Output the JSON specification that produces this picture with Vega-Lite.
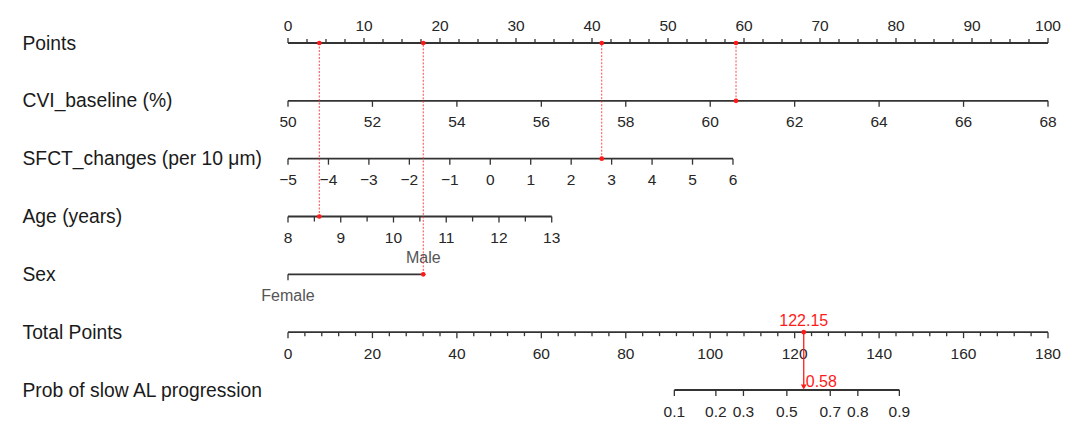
{
  "$schema": "https://vega.github.io/schema/vega-lite/v6.json",
  "width": 760,
  "height": 347,
  "autosize": "none",
  "padding": {"left": 288, "right": 32, "top": 43, "bottom": 36},
  "background": "white",
  "config": {
    "view": {"stroke": null},
    "font": "Liberation Sans",
    "axisY": {
      "domain": false, "ticks": false, "tickSize": 0, "grid": false, "title": null,
      "labelAlign": "left", "labelPadding": 266, "labelFontSize": 19.3,
      "labelColor": "#1a1a1a", "labelLimit": 400, "labelFont": "Liberation Sans"
    }
  },
  "datasets": {
    "top": [
      {"row": "Points", "pos": 0, "label": "0"}, {"row": "Points", "pos": 2.5, "label": ""}, {"row": "Points", "pos": 5, "label": ""}, {"row": "Points", "pos": 7.5, "label": ""},
      {"row": "Points", "pos": 10, "label": "10"}, {"row": "Points", "pos": 12.5, "label": ""}, {"row": "Points", "pos": 15, "label": ""}, {"row": "Points", "pos": 17.5, "label": ""},
      {"row": "Points", "pos": 20, "label": "20"}, {"row": "Points", "pos": 22.5, "label": ""}, {"row": "Points", "pos": 25, "label": ""}, {"row": "Points", "pos": 27.5, "label": ""},
      {"row": "Points", "pos": 30, "label": "30"}, {"row": "Points", "pos": 32.5, "label": ""}, {"row": "Points", "pos": 35, "label": ""}, {"row": "Points", "pos": 37.5, "label": ""},
      {"row": "Points", "pos": 40, "label": "40"}, {"row": "Points", "pos": 42.5, "label": ""}, {"row": "Points", "pos": 45, "label": ""}, {"row": "Points", "pos": 47.5, "label": ""},
      {"row": "Points", "pos": 50, "label": "50"}, {"row": "Points", "pos": 52.5, "label": ""}, {"row": "Points", "pos": 55, "label": ""}, {"row": "Points", "pos": 57.5, "label": ""},
      {"row": "Points", "pos": 60, "label": "60"}, {"row": "Points", "pos": 62.5, "label": ""}, {"row": "Points", "pos": 65, "label": ""}, {"row": "Points", "pos": 67.5, "label": ""},
      {"row": "Points", "pos": 70, "label": "70"}, {"row": "Points", "pos": 72.5, "label": ""}, {"row": "Points", "pos": 75, "label": ""}, {"row": "Points", "pos": 77.5, "label": ""},
      {"row": "Points", "pos": 80, "label": "80"}, {"row": "Points", "pos": 82.5, "label": ""}, {"row": "Points", "pos": 85, "label": ""}, {"row": "Points", "pos": 87.5, "label": ""},
      {"row": "Points", "pos": 90, "label": "90"}, {"row": "Points", "pos": 92.5, "label": ""}, {"row": "Points", "pos": 95, "label": ""}, {"row": "Points", "pos": 97.5, "label": ""},
      {"row": "Points", "pos": 100, "label": "100"},
      {"row": "CVI_baseline (%)", "pos": 0, "label": "50"}, {"row": "CVI_baseline (%)", "pos": 11.111, "label": "52"},
      {"row": "CVI_baseline (%)", "pos": 22.222, "label": "54"}, {"row": "CVI_baseline (%)", "pos": 33.333, "label": "56"},
      {"row": "CVI_baseline (%)", "pos": 44.444, "label": "58"}, {"row": "CVI_baseline (%)", "pos": 55.556, "label": "60"},
      {"row": "CVI_baseline (%)", "pos": 66.667, "label": "62"}, {"row": "CVI_baseline (%)", "pos": 77.778, "label": "64"},
      {"row": "CVI_baseline (%)", "pos": 88.889, "label": "66"}, {"row": "CVI_baseline (%)", "pos": 100, "label": "68"},
      {"row": "SFCT_changes (per 10 μm)", "pos": 0, "label": "−5"}, {"row": "SFCT_changes (per 10 μm)", "pos": 5.323, "label": "−4"},
      {"row": "SFCT_changes (per 10 μm)", "pos": 10.645, "label": "−3"}, {"row": "SFCT_changes (per 10 μm)", "pos": 15.968, "label": "−2"},
      {"row": "SFCT_changes (per 10 μm)", "pos": 21.291, "label": "−1"}, {"row": "SFCT_changes (per 10 μm)", "pos": 26.614, "label": "0"},
      {"row": "SFCT_changes (per 10 μm)", "pos": 31.936, "label": "1"}, {"row": "SFCT_changes (per 10 μm)", "pos": 37.259, "label": "2"},
      {"row": "SFCT_changes (per 10 μm)", "pos": 42.582, "label": "3"}, {"row": "SFCT_changes (per 10 μm)", "pos": 47.905, "label": "4"},
      {"row": "SFCT_changes (per 10 μm)", "pos": 53.227, "label": "5"}, {"row": "SFCT_changes (per 10 μm)", "pos": 58.55, "label": "6"},
      {"row": "Age (years)", "pos": 0, "label": "8"}, {"row": "Age (years)", "pos": 3.47, "label": ""},
      {"row": "Age (years)", "pos": 6.94, "label": "9"}, {"row": "Age (years)", "pos": 10.41, "label": ""},
      {"row": "Age (years)", "pos": 13.88, "label": "10"}, {"row": "Age (years)", "pos": 17.35, "label": ""},
      {"row": "Age (years)", "pos": 20.82, "label": "11"}, {"row": "Age (years)", "pos": 24.29, "label": ""},
      {"row": "Age (years)", "pos": 27.76, "label": "12"}, {"row": "Age (years)", "pos": 31.23, "label": ""},
      {"row": "Age (years)", "pos": 34.7, "label": "13"},
      {"row": "Sex", "pos": 0, "label": "Female"}, {"row": "Sex", "pos": 17.8, "label": "Male"}
    ],
    "bottom": [
      {"row": "Total Points", "pos": 0, "label": "0"}, {"row": "Total Points", "pos": 4, "label": ""}, {"row": "Total Points", "pos": 8, "label": ""}, {"row": "Total Points", "pos": 12, "label": ""}, {"row": "Total Points", "pos": 16, "label": ""},
      {"row": "Total Points", "pos": 20, "label": "20"}, {"row": "Total Points", "pos": 24, "label": ""}, {"row": "Total Points", "pos": 28, "label": ""}, {"row": "Total Points", "pos": 32, "label": ""}, {"row": "Total Points", "pos": 36, "label": ""},
      {"row": "Total Points", "pos": 40, "label": "40"}, {"row": "Total Points", "pos": 44, "label": ""}, {"row": "Total Points", "pos": 48, "label": ""}, {"row": "Total Points", "pos": 52, "label": ""}, {"row": "Total Points", "pos": 56, "label": ""},
      {"row": "Total Points", "pos": 60, "label": "60"}, {"row": "Total Points", "pos": 64, "label": ""}, {"row": "Total Points", "pos": 68, "label": ""}, {"row": "Total Points", "pos": 72, "label": ""}, {"row": "Total Points", "pos": 76, "label": ""},
      {"row": "Total Points", "pos": 80, "label": "80"}, {"row": "Total Points", "pos": 84, "label": ""}, {"row": "Total Points", "pos": 88, "label": ""}, {"row": "Total Points", "pos": 92, "label": ""}, {"row": "Total Points", "pos": 96, "label": ""},
      {"row": "Total Points", "pos": 100, "label": "100"}, {"row": "Total Points", "pos": 104, "label": ""}, {"row": "Total Points", "pos": 108, "label": ""}, {"row": "Total Points", "pos": 112, "label": ""}, {"row": "Total Points", "pos": 116, "label": ""},
      {"row": "Total Points", "pos": 120, "label": "120"}, {"row": "Total Points", "pos": 124, "label": ""}, {"row": "Total Points", "pos": 128, "label": ""}, {"row": "Total Points", "pos": 132, "label": ""}, {"row": "Total Points", "pos": 136, "label": ""},
      {"row": "Total Points", "pos": 140, "label": "140"}, {"row": "Total Points", "pos": 144, "label": ""}, {"row": "Total Points", "pos": 148, "label": ""}, {"row": "Total Points", "pos": 152, "label": ""}, {"row": "Total Points", "pos": 156, "label": ""},
      {"row": "Total Points", "pos": 160, "label": "160"}, {"row": "Total Points", "pos": 164, "label": ""}, {"row": "Total Points", "pos": 168, "label": ""}, {"row": "Total Points", "pos": 172, "label": ""}, {"row": "Total Points", "pos": 176, "label": ""},
      {"row": "Total Points", "pos": 180, "label": "180"},
      {"row": "Prob of slow AL progression", "pos": 91.5, "label": "0.1"},
      {"row": "Prob of slow AL progression", "pos": 101.34, "label": "0.2"},
      {"row": "Prob of slow AL progression", "pos": 107.87, "label": "0.3"},
      {"row": "Prob of slow AL progression", "pos": 118.15, "label": "0.5"},
      {"row": "Prob of slow AL progression", "pos": 128.43, "label": "0.7"},
      {"row": "Prob of slow AL progression", "pos": 134.96, "label": "0.8"},
      {"row": "Prob of slow AL progression", "pos": 144.8, "label": "0.9"}
    ],
    "picks": [
      {"row": "CVI_baseline (%)", "pos": 58.95},
      {"row": "SFCT_changes (per 10 μm)", "pos": 41.28},
      {"row": "Age (years)", "pos": 4.12},
      {"row": "Sex", "pos": 17.8}
    ],
    "result": [
      {"row": "Total Points", "pos": 122.15, "prob": "0.58"}
    ]
  },
  "encoding": {
    "y": {
      "field": "row", "type": "nominal",
      "scale": {"type": "point", "padding": 0, "domain": ["Points", "CVI_baseline (%)", "SFCT_changes (per 10 μm)", "Age (years)", "Sex", "Total Points", "Prob of slow AL progression"]}
    }
  },
  "layer": [
    {
      "data": {"name": "top"},
      "encoding": {"x": {"field": "pos", "type": "quantitative", "scale": {"domain": [0, 100], "nice": false, "zero": false}, "axis": null}},
      "layer": [
        {
          "transform": [{"aggregate": [{"op": "min", "field": "pos", "as": "pos"}, {"op": "max", "field": "pos", "as": "pos2"}], "groupby": ["row"]}],
          "mark": {"type": "rule", "color": "#333333", "strokeWidth": 1.8},
          "encoding": {"x2": {"field": "pos2"}}
        },
        {
          "transform": [{"filter": "datum.row != 'Points' && datum.label != '' && datum.label != 'Male'"}],
          "mark": {"type": "rule", "color": "#333333", "strokeWidth": 1.3, "y2Offset": 6},
          "encoding": {"y2": {"field": "row"}}
        },
        {
          "transform": [{"filter": "datum.row != 'Points' && datum.label == ''"}],
          "mark": {"type": "rule", "color": "#333333", "strokeWidth": 1.3, "y2Offset": 5},
          "encoding": {"y2": {"field": "row"}}
        },
        {
          "transform": [{"filter": "datum.row == 'Points' && datum.label != ''"}],
          "mark": {"type": "rule", "color": "#333333", "strokeWidth": 1.3, "y2Offset": -5},
          "encoding": {"y2": {"field": "row"}}
        },
        {
          "transform": [{"filter": "datum.row == 'Points' && datum.label == ''"}],
          "mark": {"type": "rule", "color": "#333333", "strokeWidth": 1.3, "y2Offset": -4},
          "encoding": {"y2": {"field": "row"}}
        },
        {
          "transform": [{"filter": "datum.row != 'Points' && datum.row != 'Sex' && datum.label != ''"}],
          "mark": {"type": "text", "fontSize": 15.5, "color": "#262626", "baseline": "middle", "dy": 21},
          "encoding": {"text": {"field": "label"}}
        },
        {
          "transform": [{"filter": "datum.row == 'Points' && datum.label != ''"}],
          "mark": {"type": "text", "fontSize": 15.5, "color": "#262626", "baseline": "middle", "dy": -17.5},
          "encoding": {"text": {"field": "label"}}
        },
        {
          "transform": [{"filter": "datum.label == 'Male'"}],
          "mark": {"type": "text", "fontSize": 16, "color": "#555555", "baseline": "middle", "dy": -16},
          "encoding": {"text": {"field": "label"}}
        },
        {
          "transform": [{"filter": "datum.label == 'Female'"}],
          "mark": {"type": "text", "fontSize": 16, "color": "#555555", "baseline": "middle", "dy": 22},
          "encoding": {"text": {"field": "label"}}
        },
        {
          "data": {"name": "picks"},
          "mark": {"type": "rule", "color": "#ff2a2a", "strokeWidth": 1, "strokeDash": [2, 1.5], "opacity": 0.85},
          "encoding": {"y2": {"datum": "Points"}}
        },
        {
          "data": {"name": "picks"},
          "mark": {"type": "point", "shape": "circle", "filled": true, "color": "#ff1a1a", "size": 22, "opacity": 1}
        },
        {
          "data": {"name": "picks"},
          "mark": {"type": "point", "shape": "circle", "filled": true, "color": "#ff1a1a", "size": 22, "opacity": 1},
          "encoding": {
            "y": {"datum": "Points", "type": "nominal", "scale": {"type": "point", "padding": 0, "domain": ["Points", "CVI_baseline (%)", "SFCT_changes (per 10 μm)", "Age (years)", "Sex", "Total Points", "Prob of slow AL progression"]}}
          }
        }
      ]
    },
    {
      "data": {"name": "bottom"},
      "encoding": {"x": {"field": "pos", "type": "quantitative", "scale": {"domain": [0, 180], "nice": false, "zero": false}, "axis": null}},
      "layer": [
        {
          "transform": [{"aggregate": [{"op": "min", "field": "pos", "as": "pos"}, {"op": "max", "field": "pos", "as": "pos2"}], "groupby": ["row"]}],
          "mark": {"type": "rule", "color": "#333333", "strokeWidth": 1.8},
          "encoding": {"x2": {"field": "pos2"}}
        },
        {
          "transform": [{"filter": "datum.label != ''"}],
          "mark": {"type": "rule", "color": "#333333", "strokeWidth": 1.3, "y2Offset": 6},
          "encoding": {"y2": {"field": "row"}}
        },
        {
          "transform": [{"filter": "datum.label == ''"}],
          "mark": {"type": "rule", "color": "#333333", "strokeWidth": 1.3, "y2Offset": 4},
          "encoding": {"y2": {"field": "row"}}
        },
        {
          "transform": [{"filter": "datum.label != ''"}],
          "mark": {"type": "text", "fontSize": 15.5, "color": "#262626", "baseline": "middle", "dy": 22},
          "encoding": {"text": {"field": "label"}}
        },
        {
          "data": {"name": "result"},
          "mark": {"type": "rule", "color": "#ff1a1a", "strokeWidth": 1.3, "y2Offset": -4},
          "encoding": {"y2": {"datum": "Prob of slow AL progression"}}
        },
        {
          "data": {"name": "result"},
          "mark": {"type": "point", "shape": "circle", "filled": true, "color": "#ff1a1a", "size": 22, "opacity": 1}
        },
        {
          "data": {"name": "result"},
          "mark": {"type": "point", "shape": "triangle-down", "filled": true, "color": "#ff1a1a", "size": 34, "opacity": 1, "yOffset": -3},
          "encoding": {
            "y": {"datum": "Prob of slow AL progression", "type": "nominal", "scale": {"type": "point", "padding": 0, "domain": ["Points", "CVI_baseline (%)", "SFCT_changes (per 10 μm)", "Age (years)", "Sex", "Total Points", "Prob of slow AL progression"]}}
          }
        },
        {
          "data": {"name": "result"},
          "mark": {"type": "text", "fontSize": 16, "color": "#ff1a1a", "baseline": "middle", "dy": -11},
          "encoding": {"text": {"field": "pos", "type": "quantitative", "format": ".2f"}}
        },
        {
          "data": {"name": "result"},
          "mark": {"type": "text", "fontSize": 16, "color": "#ff1a1a", "baseline": "middle", "align": "left", "dx": 2, "dy": -8},
          "encoding": {
            "y": {"datum": "Prob of slow AL progression", "type": "nominal", "scale": {"type": "point", "padding": 0, "domain": ["Points", "CVI_baseline (%)", "SFCT_changes (per 10 μm)", "Age (years)", "Sex", "Total Points", "Prob of slow AL progression"]}},
            "text": {"field": "prob"}
          }
        }
      ]
    }
  ],
  "resolve": {"scale": {"x": "independent"}}
}
